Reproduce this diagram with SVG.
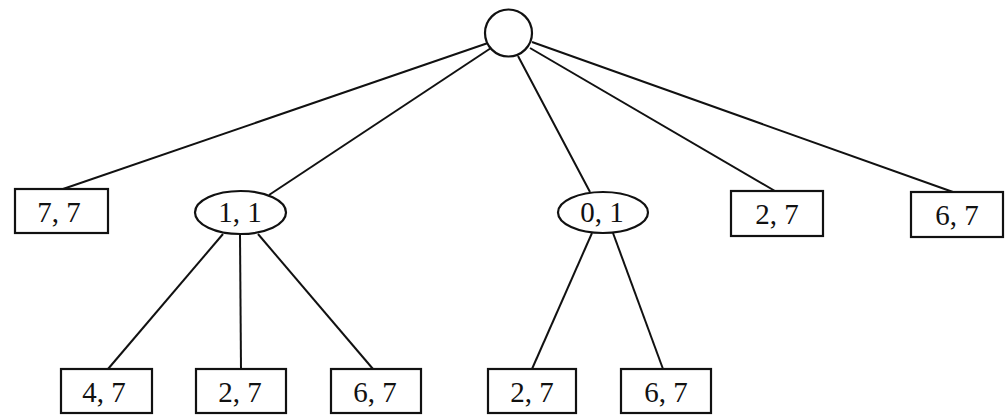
<svg xmlns="http://www.w3.org/2000/svg" width="1008" height="415" viewBox="0 0 1008 415">
<style>
.n{fill:#fff;stroke:#111;stroke-width:2.2}
.e line{stroke:#111;stroke-width:2}
text{font-family:"Liberation Serif","Times New Roman",serif;font-size:29px;fill:#111;text-anchor:middle}
</style>
<rect width="1008" height="415" fill="#fff"/>
<g class="e" id="connectors">
<line x1="488" y1="43" x2="63" y2="189"/>
<line x1="491" y1="48" x2="269" y2="195"/>
<line x1="518" y1="56" x2="590" y2="192"/>
<line x1="530" y1="48" x2="775" y2="191"/>
<line x1="532" y1="42" x2="953" y2="192"/>
<line x1="223" y1="234" x2="108" y2="369"/>
<line x1="240" y1="234" x2="241" y2="369"/>
<line x1="258" y1="234" x2="373" y2="369"/>
<line x1="592" y1="233" x2="532" y2="369"/>
<line x1="613" y1="233" x2="663" y2="369"/>
</g>
<g id="root"><circle class="n" cx="508.5" cy="33" r="23.5"/></g>
<g id="n77"><rect class="n" x="15" y="189" width="93" height="44"/><text x="59" y="222">7, 7</text></g>
<g id="n11"><ellipse class="n" cx="240.5" cy="212.5" rx="45.5" ry="21.5"/><text x="240" y="222">1, 1</text></g>
<g id="n01"><ellipse class="n" cx="603" cy="212.5" rx="45" ry="20.5"/><text x="602" y="222">0, 1</text></g>
<g id="n27a"><rect class="n" x="731" y="191" width="92" height="45"/><text x="777" y="224">2, 7</text></g>
<g id="n67a"><rect class="n" x="911" y="192" width="92" height="45"/><text x="957" y="225">6, 7</text></g>
<g id="n47"><rect class="n" x="61" y="369" width="91" height="44"/><text x="104" y="402">4, 7</text></g>
<g id="n27b"><rect class="n" x="196" y="369" width="90" height="44"/><text x="240" y="402">2, 7</text></g>
<g id="n67b"><rect class="n" x="331" y="369" width="90" height="44"/><text x="375" y="402">6, 7</text></g>
<g id="n27c"><rect class="n" x="488" y="369" width="88" height="44"/><text x="532" y="402">2, 7</text></g>
<g id="n67c"><rect class="n" x="621" y="369" width="90" height="44"/><text x="666" y="402">6, 7</text></g>
</svg>
